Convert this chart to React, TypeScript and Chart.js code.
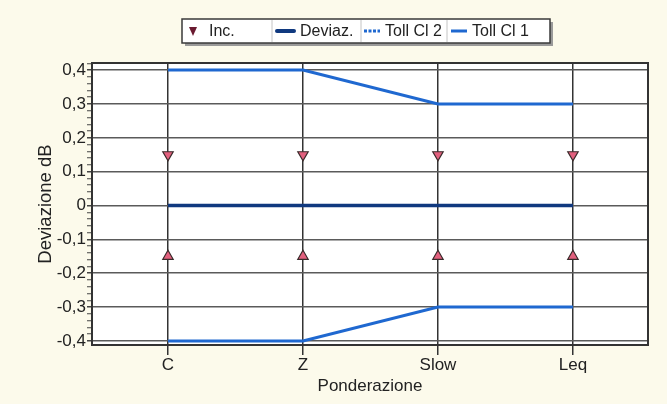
import React, { useEffect, useRef } from 'react';
import { Chart, registerables } from 'chart.js';

Chart.register(...registerables);

// ---- data ----
const categories = ['C', 'Z', 'Slow', 'Leq'];
const incUpper = [0.15, 0.15, 0.15, 0.15];
const incLower = [-0.15, -0.15, -0.15, -0.15];
const deviaz = [0, 0, 0, 0];
const tollCl1Upper = [0.4, 0.4, 0.3, 0.3];
const tollCl1Lower = [-0.4, -0.4, -0.3, -0.3];
const tollCl2Upper: number[] = [];
const tollCl2Lower: number[] = [];
const legendLabels = ['Inc.', 'Deviaz.', 'Toll Cl 2', 'Toll Cl 1'];
const xTitle = 'Ponderazione';
const yTitle = 'Deviazione dB';

const FONT = '"Liberation Sans", Arial, sans-serif';
const TOLL_BLUE = '#1f68d0';
const DEV_NAVY = '#10397f';
const INC_FILL = '#e2607e';
const INC_LEGEND = '#6a1a30';

const toXY = (arr: number[]) => arr.map((y, i) => ({ x: i, y }));

const isMajor = (v: number) => Math.abs(v * 10 - Math.round(v * 10)) < 1e-6;

const fmt = (v: number) => {
  const r = Math.round(v * 10) / 10;
  if (r === 0) return '0';
  return r.toFixed(1).replace('.', ',');
};

const plotBgPlugin = {
  id: 'plotBg',
  beforeDraw(chart: any) {
    const { ctx, chartArea: a } = chart;
    ctx.save();
    ctx.fillStyle = '#ffffff';
    ctx.fillRect(a.left, a.top, a.right - a.left, a.bottom - a.top);
    ctx.restore();
  },
  afterDatasetsDraw(chart: any) {
    const { ctx, chartArea: a } = chart;
    ctx.save();
    ctx.strokeStyle = '#333333';
    ctx.lineWidth = 2;
    ctx.strokeRect(a.left, a.top, a.right - a.left, a.bottom - a.top);
    ctx.restore();
  },
};

const boxLegendPlugin = {
  id: 'boxLegend',
  afterDraw(chart: any) {
    const { ctx, chartArea: a } = chart;
    const cx = (a.left + a.right) / 2;
    const left = cx - 188;
    const top = 19;
    const h = 24;
    const cells = [0, 90, 179, 265, 368].map((v) => left + v);
    const right = cells[cells.length - 1];
    ctx.save();
    // shadow
    ctx.fillStyle = '#9a9a9a';
    ctx.fillRect(left + 3, top + 3, right - left, h);
    ctx.fillStyle = '#ffffff';
    ctx.fillRect(left, top, right - left, h);
    ctx.strokeStyle = '#3a3a3a';
    ctx.lineWidth = 1.5;
    ctx.strokeRect(left, top, right - left, h);
    // dividers
    ctx.strokeStyle = '#c4c4c4';
    ctx.lineWidth = 1;
    for (let i = 1; i < cells.length - 1; i++) {
      ctx.beginPath();
      ctx.moveTo(cells[i], top + 1);
      ctx.lineTo(cells[i], top + h - 1);
      ctx.stroke();
    }
    const cy = top + h / 2;
    // Inc. down triangle
    ctx.fillStyle = INC_LEGEND;
    ctx.beginPath();
    ctx.moveTo(cells[0] + 7, cy - 4);
    ctx.lineTo(cells[0] + 15, cy - 4);
    ctx.lineTo(cells[0] + 11, cy + 5);
    ctx.closePath();
    ctx.fill();
    // Deviaz.
    ctx.strokeStyle = DEV_NAVY;
    ctx.lineWidth = 4;
    ctx.lineCap = 'round';
    ctx.beginPath();
    ctx.moveTo(cells[1] + 5, cy);
    ctx.lineTo(cells[1] + 22, cy);
    ctx.stroke();
    // Toll Cl 2 dashed
    ctx.strokeStyle = TOLL_BLUE;
    ctx.lineWidth = 3;
    ctx.lineCap = 'butt';
    ctx.setLineDash([3, 1.5]);
    ctx.beginPath();
    ctx.moveTo(cells[2] + 3, cy);
    ctx.lineTo(cells[2] + 19, cy);
    ctx.stroke();
    ctx.setLineDash([]);
    // Toll Cl 1
    ctx.beginPath();
    ctx.moveTo(cells[3] + 4, cy);
    ctx.lineTo(cells[3] + 20, cy);
    ctx.stroke();
    // texts
    ctx.fillStyle = '#222222';
    ctx.font = `16px ${FONT}`;
    ctx.textBaseline = 'middle';
    ctx.textAlign = 'left';
    const textOffsets = [27, 28, 24, 25];
    legendLabels.forEach((t, i) => {
      ctx.fillText(t, cells[i] + textOffsets[i], cy + 1);
    });
    ctx.restore();
  },
};

export default function App() {
  const ref = useRef<HTMLCanvasElement | null>(null);

  useEffect(() => {
    if (!ref.current) return;
    const chart = new Chart(ref.current, {
      type: 'scatter',
      data: {
        datasets: [
          {
            label: legendLabels[0],
            data: toXY(incUpper),
            showLine: false,
            pointStyle: 'triangle',
            pointRotation: 180,
            pointRadius: 6,
            backgroundColor: INC_FILL,
            borderColor: '#3a2a2a',
            borderWidth: 1.2,
          },
          {
            label: legendLabels[0] + ' ',
            data: toXY(incLower),
            showLine: false,
            pointStyle: 'triangle',
            pointRotation: 0,
            pointRadius: 6,
            backgroundColor: INC_FILL,
            borderColor: '#3a2a2a',
            borderWidth: 1.2,
          },
          {
            label: legendLabels[1],
            data: toXY(deviaz),
            showLine: true,
            pointRadius: 0,
            borderColor: DEV_NAVY,
            borderWidth: 3.5,
          },
          {
            label: legendLabels[3],
            data: toXY(tollCl1Upper),
            showLine: true,
            pointRadius: 0,
            borderColor: TOLL_BLUE,
            borderWidth: 3,
          },
          {
            label: legendLabels[3] + ' ',
            data: toXY(tollCl1Lower),
            showLine: true,
            pointRadius: 0,
            borderColor: TOLL_BLUE,
            borderWidth: 3,
          },
          {
            label: legendLabels[2],
            data: toXY(tollCl2Upper),
            showLine: true,
            pointRadius: 0,
            borderColor: TOLL_BLUE,
            borderDash: [3, 1.5],
            borderWidth: 3,
          },
          {
            label: legendLabels[2] + ' ',
            data: toXY(tollCl2Lower),
            showLine: true,
            pointRadius: 0,
            borderColor: TOLL_BLUE,
            borderDash: [3, 1.5],
            borderWidth: 3,
          },
        ],
      },
      options: {
        animation: false,
        responsive: false,
        maintainAspectRatio: false,
        layout: { padding: { top: 63, right: 19, left: 0, bottom: 0 } },
        plugins: {
          legend: { display: false },
          tooltip: { enabled: false },
        },
        scales: {
          x: {
            type: 'linear',
            min: -0.563,
            max: 3.556,
            afterFit: (s: any) => {
              s.height = 59;
            },
            ticks: {
              stepSize: 1,
              includeBounds: false,
              autoSkip: false,
              padding: 0,
              color: '#222222',
              font: { family: FONT, size: 17 },
              callback: (v: any) => {
                const i = Math.round(Number(v));
                return Math.abs(Number(v) - i) < 1e-6 && categories[i] !== undefined ? categories[i] : '';
              },
            },
            grid: {
              color: '#333333',
              lineWidth: 1.5,
              tickLength: 10,
              tickColor: '#333333',
            },
            border: { display: false },
            title: {
              display: true,
              text: xTitle,
              color: '#222222',
              font: { family: FONT, size: 17 },
              padding: { top: 0, bottom: 7 },
            },
          },
          y: {
            type: 'linear',
            min: -0.412,
            max: 0.421,
            afterFit: (s: any) => {
              s.width = 92;
            },
            ticks: {
              stepSize: 0.02,
              includeBounds: false,
              autoSkip: false,
              padding: 1,
              color: '#222222',
              font: { family: FONT, size: 17 },
              callback: (v: any) => (isMajor(Number(v)) ? fmt(Number(v)) : ''),
            },
            grid: {
              color: (c: any) => (c.tick && isMajor(c.tick.value) ? '#5a5a5a' : 'rgba(0,0,0,0)'),
              lineWidth: 1.5,
              tickLength: 5,
              tickColor: '#444444',
              tickWidth: (c: any) => (c.tick && isMajor(c.tick.value) ? 1.5 : 1),
            },
            border: { display: false },
            title: {
              display: true,
              text: yTitle,
              color: '#222222',
              font: { family: FONT, size: 18.5 },
              padding: { top: 35, bottom: 0 },
            },
          },
        },
      },
      plugins: [plotBgPlugin, boxLegendPlugin],
    } as any);
    return () => chart.destroy();
  }, []);

  return (
    <div
      style={{
        position: 'fixed',
        left: 0,
        top: 0,
        width: 667,
        height: 404,
        background: '#fcfaeb',
      }}
    >
      <canvas ref={ref} width={667} height={404} style={{ display: 'block' }} />
    </div>
  );
}
